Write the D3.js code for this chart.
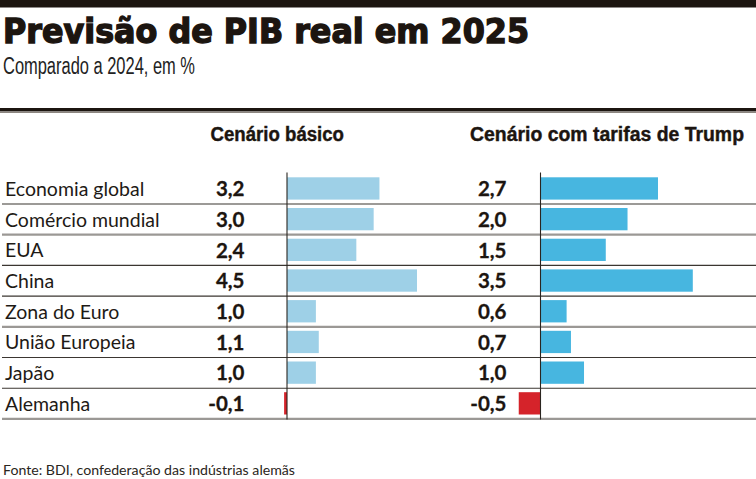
<!DOCTYPE html>
<html><head><meta charset="utf-8">
<script src="https://cdn.jsdelivr.net/npm/d3@7"></script>
<style>body{margin:0;background:#fff}svg{display:block}</style>
</head><body>
<script>
const categories = ["Economia global","Comércio mundial","EUA","China","Zona do Euro","União Europeia","Japão","Alemanha"];
const basico = [3.2, 3.0, 2.4, 4.5, 1.0, 1.1, 1.0, -0.1];
const trump = [2.7, 2.0, 1.5, 3.5, 0.6, 0.7, 1.0, -0.5];
const headers = ["Cenário básico", "Cenário com tarifas de Trump"];
const title = "Previsão de PIB real em 2025";
const subtitle = "Comparado a 2024, em %";
const source = "Fonte: BDI, confederação das indústrias alemãs";

const W = 756, H = 479;
const ink = "#1c1510";
const svg = d3.select("body").append("svg").attr("width", W).attr("height", H);

svg.append("rect").attr("x",0).attr("y",0).attr("width",W).attr("height",7.5).attr("fill",ink);
svg.append("text").attr("x",3).attr("y",43).text(title)
  .attr("font-family","'Liberation Sans Narrow','DejaVu Sans Condensed'").attr("font-weight","bold")
  .attr("font-size",33).attr("fill",ink).attr("stroke",ink).attr("stroke-width",1.3)
  .attr("textLength",526).attr("lengthAdjust","spacingAndGlyphs");
svg.append("text").attr("x",3).attr("y",74).text(subtitle)
  .attr("font-family","'Liberation Sans Narrow','Liberation Sans'")
  .attr("font-size",23.5).attr("fill","#222").attr("textLength",192).attr("lengthAdjust","spacingAndGlyphs");
svg.append("rect").attr("x",0).attr("y",108).attr("width",W).attr("height",3.5).attr("fill",ink);
svg.append("rect").attr("x",0).attr("y",111.5).attr("width",W).attr("height",1.5).attr("fill","#8c8680");

svg.append("text").attr("x",210.5).attr("y",141).text(headers[0])
  .attr("font-family","'Liberation Sans Narrow','Liberation Sans'").attr("font-weight","bold")
  .attr("font-size",19.5).attr("fill",ink).attr("stroke",ink).attr("stroke-width",0.4)
  .attr("textLength",133.5).attr("lengthAdjust","spacingAndGlyphs");
svg.append("text").attr("x",470).attr("y",141).text(headers[1])
  .attr("font-family","'Liberation Sans Narrow','Liberation Sans'").attr("font-weight","bold")
  .attr("font-size",19.5).attr("fill",ink).attr("stroke",ink).attr("stroke-width",0.4)
  .attr("textLength",274).attr("lengthAdjust","spacingAndGlyphs");

const rows = d3.scaleBand().domain(categories).range([173.3, 418.9]);
const xL = d3.scaleLinear().domain([0, 4.5]).range([287, 417]);
const xR = d3.scaleLinear().domain([0, 3.5]).range([540.5, 692.8]);
const fmt = v => d3.format(".1f")(v).replace(".", ",").replace("−","-");

categories.forEach((c, i) => {
  const y = rows(c) + rows.bandwidth();
  const gray = (i === 1 || i === 4 || i === 7);
  svg.append("line").attr("x1",2).attr("x2",W).attr("y1",y).attr("y2",y)
    .attr("stroke", gray ? "#9b9895" : "#3b3631").attr("stroke-width", gray ? 2.2 : 1.1);
});

const barTop = 4, barH = 22.3;
function panel(vals, x, pos, neg, valX) {
  svg.append("g").selectAll("rect").data(vals).join("rect")
    .attr("x", d => Math.min(x(0), x(d)))
    .attr("width", d => Math.abs(x(d) - x(0)))
    .attr("y", (d, i) => rows(categories[i]) + barTop)
    .attr("height", barH)
    .attr("fill", d => d < 0 ? neg : pos);
  svg.append("line").attr("x1", x(0)).attr("x2", x(0)).attr("y1", 172.5).attr("y2", 419.5)
    .attr("stroke", "#2a2520").attr("stroke-width", 1.1);
  svg.append("g").selectAll("text").data(vals).join("text")
    .attr("x", valX).attr("y", (d, i) => rows(categories[i]) + 22.8)
    .attr("text-anchor", "end").attr("font-family", "Lato, 'Open Sans', sans-serif")
    .attr("font-weight", "bold").attr("font-size", 20.5).attr("fill", ink)
    .attr("stroke", ink).attr("stroke-width", 0.3)
    .text(fmt);
}
panel(basico, xL, "#9ed0e7", "#d5232a", 244.5);
panel(trump, xR, "#47b6e0", "#d5232a", 506.5);

svg.append("g").selectAll("text").data(categories).join("text")
  .attr("x", 5).attr("y", c => rows(c) + 22.6)
  .attr("font-family", "Lato, 'Open Sans', sans-serif").attr("font-size", 19.5)
  .attr("fill", "#1e1a16").text(c => c);

svg.append("text").attr("x",3).attr("y",474.5).text(source)
  .attr("font-family","Lato, sans-serif").attr("font-size",14.2).attr("fill","#2a2520")
  .attr("textLength",292).attr("lengthAdjust","spacingAndGlyphs");
</script>
</body></html>
